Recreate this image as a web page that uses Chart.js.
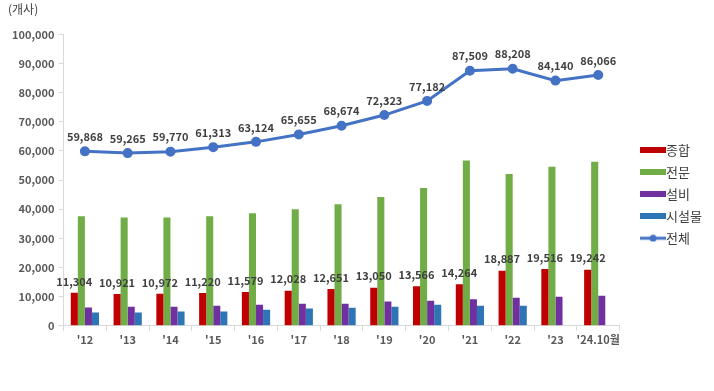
<!DOCTYPE html>
<html>
<head>
<meta charset="utf-8">
<script src="https://cdn.jsdelivr.net/npm/chart.js@4"></script>
<style>
  html, body { margin: 0; padding: 0; background: #fff; }
  #wrap { width: 714px; height: 391px; position: relative; }
</style>
</head>
<body>
<div id="wrap"><canvas id="chart"></canvas></div>
<script>
const years = ["'12", "'13", "'14", "'15", "'16", "'17", "'18", "'19", "'20", "'21", "'22", "'23", "'24.10월"];

const general = [11304, 10921, 10972, 11220, 11579, 12028, 12651, 13050, 13566, 14264, 18887, 19516, 19242];
const specialty = [37600, 37200, 37200, 37600, 38600, 40000, 41700, 44200, 47300, 56700, 52100, 54600, 56300];
const equipment = [6300, 6500, 6500, 6900, 7200, 7600, 7600, 8300, 8600, 9100, 9600, 10000, 10300];
const facility = [4600, 4600, 4900, 4900, 5500, 5900, 6200, 6500, 7200, 6900, 6900, null, null];
const total = [59868, 59265, 59770, 61313, 63124, 65655, 68674, 72323, 77182, 87509, 88208, 84140, 86066];

const FONT = "'Noto Sans CJK KR', 'Noto Sans', sans-serif";
const LABEL_COLOR = '#404040';

// small canvases used as legend markers
const makeBoxIcon = (color) => {
  const c = document.createElement('canvas');
  c.width = 26; c.height = 6;
  const g = c.getContext('2d');
  g.fillStyle = color;
  g.fillRect(0, 0, 26, 6);
  return c;
};
const makeLineIcon = (color) => {
  const c = document.createElement('canvas');
  c.width = 26; c.height = 8;
  const g = c.getContext('2d');
  g.strokeStyle = color;
  g.lineWidth = 3;
  g.beginPath(); g.moveTo(0, 4); g.lineTo(26, 4); g.stroke();
  g.fillStyle = color;
  g.beginPath(); g.arc(13, 4, 3.5, 0, Math.PI * 2); g.fill();
  return c;
};

// draws value labels above red bars and the total line
const valueLabels = {
  id: 'valueLabels',
  afterDatasetsDraw(chart) {
    const ctx = chart.ctx;
    ctx.save();
    ctx.font = 'bold 11px ' + FONT;
    ctx.fillStyle = LABEL_COLOR;
    ctx.textAlign = 'center';
    ctx.textBaseline = 'bottom';
    [0, 4].forEach(di => {
      const meta = chart.getDatasetMeta(di);
      const data = chart.data.datasets[di].data;
      meta.data.forEach((el, i) => {
        if (data[i] == null) return;
        const off = di === 4 ? 9 : 6;
        ctx.fillText(data[i].toLocaleString('en-US'), el.x, el.y - off);
      });
    });
    ctx.restore();
  }
};

new Chart(document.getElementById('chart'), {
  data: {
    labels: years,
    datasets: [
      { type: 'bar', label: '종합', data: general, backgroundColor: '#C00000', order: 2 },
      { type: 'bar', label: '전문', data: specialty, backgroundColor: '#70AD47', order: 2 },
      { type: 'bar', label: '설비', data: equipment, backgroundColor: '#7030A0', order: 2 },
      { type: 'bar', label: '시설물', data: facility, backgroundColor: '#2E75B6', order: 2 },
      {
        type: 'line', label: '전체', data: total,
        borderColor: '#4472C4', backgroundColor: '#4472C4',
        borderWidth: 3, pointRadius: 3.5, pointHoverRadius: 3.5,
        tension: 0, order: 1
      }
    ]
  },
  options: {
    responsive: true,
    maintainAspectRatio: false,
    animation: false,
    datasets: {
      bar: { barPercentage: 1, categoryPercentage: 0.66 }
    },
    layout: { padding: { left: 8, right: 2, top: 0, bottom: 43 } },
    scales: {
      x: {
        grid: { display: true, drawOnChartArea: false, drawTicks: true, tickLength: 5, offset: true, color: '#d9d9d9' },
        border: { color: '#d9d9d9' },
        ticks: {
          color: '#595959', autoSkip: false, maxRotation: 0, padding: 2,
          font: { family: FONT, size: 11, weight: 'bold' }
        }
      },
      y: {
        min: 0, max: 100000,
        grid: { display: true, drawOnChartArea: false, drawTicks: true, tickLength: 5, color: '#d9d9d9' },
        border: { color: '#d9d9d9' },
        ticks: {
          stepSize: 10000,
          color: '#595959',
          padding: 4,
          font: { family: FONT, size: 11, weight: 'bold' },
          callback: v => v.toLocaleString('en-US')
        }
      },
      // empty right axis, only keeps a gap between plot and legend
      gap: {
        type: 'linear', position: 'right', min: 0, max: 1,
        grid: { display: false }, border: { display: false },
        ticks: { display: false },
        afterFit: axis => { axis.width = 18; }
      }
    },
    plugins: {
      title: {
        display: true, text: '(개사)', align: 'start', color: '#404040',
        font: { family: FONT, size: 12, weight: 'normal' },
        padding: { top: 2, bottom: 18 }
      },
      legend: {
        position: 'right',
        title: { display: true, text: ' ', padding: { top: 0, bottom: 26 }, font: { size: 12 } },
        labels: {
          usePointStyle: true,
          padding: 9,
          color: '#404040',
          font: { family: FONT, size: 13 },
          generateLabels(chart) {
            return chart.data.datasets.map((ds, i) => ({
              text: ds.label,
              fillStyle: ds.backgroundColor,
              strokeStyle: ds.backgroundColor,
              fontColor: '#404040',
              pointStyle: ds.type === 'line' ? makeLineIcon(ds.borderColor) : makeBoxIcon(ds.backgroundColor),
              datasetIndex: i,
              hidden: false
            }));
          }
        }
      },
      tooltip: { enabled: false }
    }
  },
  plugins: [valueLabels]
});
</script>
</body>
</html>
